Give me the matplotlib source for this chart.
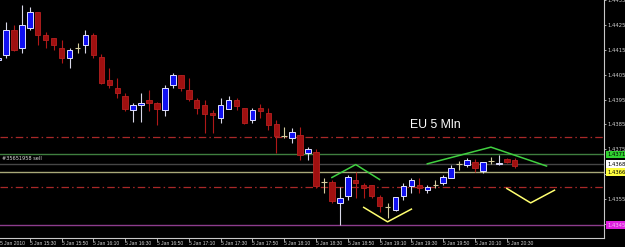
import matplotlib
matplotlib.use("Agg")
import matplotlib.pyplot as plt
import numpy as np
import pandas as pd

# ---- data (EURUSD 5-minute bars, 5 Jan 2010) ----
times = pd.date_range("2010-01-05 15:10", periods=66, freq="5min")
opens = [1.44110, 1.44130, 1.44230, 1.44158, 1.44238, 1.44302, 1.44210, 1.44198, 1.44158, 1.44118,
         1.44158, 1.44170, 1.44210, 1.44122, 1.44030, 1.43998, 1.43966, 1.43910, 1.43930, 1.43950,
         1.43938, 1.43910, 1.44010, 1.44050, 1.43990, 1.43950, 1.43930, 1.43898, 1.43878, 1.43914,
         1.43950, 1.43918, 1.43866, 1.43918, 1.43898, 1.43850, 1.43802, 1.43794, 1.43806, 1.43734,
         1.43738, 1.43618, 1.43618, 1.43534, 1.43562, 1.43626, 1.43606, 1.43606, 1.43558, 1.43518,
         1.43506, 1.43562, 1.43602, 1.43606, 1.43586, 1.43606, 1.43614, 1.43634, 1.43690, 1.43686,
         1.43698, 1.43662, 1.43702, 1.43690, 1.43710, 1.43706]
highs = [1.44122, 1.44262, 1.44250, 1.44330, 1.44322, 1.44302, 1.44222, 1.44198, 1.44190, 1.44158,
         1.44178, 1.44230, 1.44218, 1.44134, 1.44078, 1.44038, 1.43978, 1.43938, 1.43978, 1.43990,
         1.43942, 1.44010, 1.44058, 1.44050, 1.44038, 1.43958, 1.43950, 1.43910, 1.43958, 1.43966,
         1.43958, 1.43918, 1.43918, 1.43934, 1.43918, 1.43866, 1.43838, 1.43834, 1.43838, 1.43758,
         1.43750, 1.43634, 1.43626, 1.43598, 1.43646, 1.43658, 1.43614, 1.43606, 1.43566, 1.43534,
         1.43558, 1.43614, 1.43634, 1.43634, 1.43606, 1.43626, 1.43646, 1.43686, 1.43702, 1.43714,
         1.43710, 1.43698, 1.43718, 1.43726, 1.43714, 1.43714]
lows = [1.44106, 1.44118, 1.44146, 1.44138, 1.44230, 1.44170, 1.44158, 1.44150, 1.44098, 1.44078,
        1.44138, 1.44138, 1.44118, 1.44014, 1.43998, 1.43958, 1.43906, 1.43858, 1.43858, 1.43906,
        1.43846, 1.43886, 1.43998, 1.43986, 1.43946, 1.43894, 1.43814, 1.43814, 1.43854, 1.43914,
        1.43910, 1.43850, 1.43854, 1.43878, 1.43826, 1.43734, 1.43794, 1.43774, 1.43706, 1.43706,
        1.43594, 1.43574, 1.43534, 1.43446, 1.43546, 1.43554, 1.43554, 1.43554, 1.43498, 1.43474,
        1.43502, 1.43546, 1.43574, 1.43574, 1.43574, 1.43594, 1.43606, 1.43634, 1.43666, 1.43678,
        1.43658, 1.43654, 1.43690, 1.43686, 1.43694, 1.43674]
closes = [1.44118, 1.44230, 1.44150, 1.44250, 1.44302, 1.44210, 1.44190, 1.44170, 1.44118, 1.44150,
          1.44158, 1.44210, 1.44130, 1.44018, 1.44010, 1.43978, 1.43914, 1.43930, 1.43938, 1.43938,
          1.43914, 1.43998, 1.44050, 1.43998, 1.43954, 1.43918, 1.43894, 1.43890, 1.43930, 1.43950,
          1.43926, 1.43854, 1.43910, 1.43906, 1.43846, 1.43802, 1.43802, 1.43818, 1.43726, 1.43750,
          1.43602, 1.43618, 1.43542, 1.43554, 1.43638, 1.43614, 1.43594, 1.43562, 1.43522, 1.43518,
          1.43558, 1.43602, 1.43626, 1.43594, 1.43598, 1.43606, 1.43638, 1.43674, 1.43690, 1.43706,
          1.43674, 1.43698, 1.43702, 1.43694, 1.43698, 1.43682]

# horizontal levels
dashdot_levels = [1.43798, 1.43598]
green_level = 1.43730
bid_level = 1.43690
yellow_level = 1.43658
magenta_level = 1.43446
level_labels = ["1.4371", "1.4368", "1.4366", "1.4345"]

# hand-drawn pattern lines (bar index, price)
green1_x = [42, 45, 48];  green1_y = [1.43637, 1.43689, 1.43629]
green2_x = [54, 62, 69];  green2_y = [1.43692, 1.43759, 1.43683]
yellow1_x = [46, 49, 52]; yellow1_y = [1.43517, 1.43459, 1.43510]
yellow2_x = [64, 67, 70]; yellow2_y = [1.43593, 1.43535, 1.43586]

price_ticks = [1.4435, 1.4425, 1.4415, 1.4405, 1.4395, 1.4385, 1.4375, 1.4365, 1.4355, 1.4345]

# ---- figure ----
W, H = 625, 247
fig = plt.figure(figsize=(W / 100, H / 100), dpi=100, facecolor="black")
ax = fig.add_axes([0, 9 / H, 604 / W, 238 / H], facecolor="black")

idx = np.arange(len(times))
o = np.array(opens); h = np.array(highs); l = np.array(lows); c = np.array(closes)
bw = 0.68

bull = c > o
bear = c < o
doji = c == o

ax.vlines(idx[bull], l[bull], h[bull], color="#d8d8e8", lw=0.8, zorder=3)
ax.vlines(idx[bear], l[bear], h[bear], color="#b01818", lw=0.8, zorder=3)
ax.vlines(idx[doji], l[doji], h[doji], color="#d6cfa0", lw=0.8, zorder=3)
ax.bar(idx[bull], c[bull] - o[bull], bottom=o[bull], width=bw, color="#1010f0",
       edgecolor="#e0e0ff", linewidth=0.7, zorder=4)
ax.bar(idx[bear], o[bear] - c[bear], bottom=c[bear], width=bw, color="#a01010",
       edgecolor="#b82020", linewidth=0.6, zorder=4)
ax.hlines(o[doji], idx[doji] - bw / 2, idx[doji] + bw / 2, color="#d6cfa0", lw=0.8, zorder=4)

# horizontal lines
for lv in dashdot_levels:
    ax.axhline(lv, color="#a82828", lw=0.9, ls=(0, (6, 2.5, 1.2, 2.5)), zorder=1)
ax.axhline(green_level, color="#3f7f3f", lw=1.0, zorder=1)
ax.axhline(bid_level, color="#464646", lw=1.0, zorder=1)
ax.axhline(yellow_level, color="#a8a878", lw=1.0, zorder=1)
ax.axhline(magenta_level, color="#8c3c8c", lw=1.0, zorder=1)

# pattern lines
ax.plot(green1_x, green1_y, color="#40d040", lw=1.1, zorder=5)
ax.plot(green2_x, green2_y, color="#40d040", lw=1.1, zorder=5)
ax.plot(yellow1_x, yellow1_y, color="#ffff70", lw=1.1, zorder=5)
ax.plot(yellow2_x, yellow2_y, color="#ffff70", lw=1.1, zorder=5)

ax.text(411.5 / 7.95, 1.43846, "EU 5 Mln", color="white", fontsize=8.8,
        family="Liberation Sans", ha="left", va="center", zorder=6)
ax.text(0.45, 1.43712, "#35651958 sell", color="#e0e0e0", fontsize=3.6,
        family="DejaVu Sans", ha="left", va="center", zorder=6)

# limits
ax.set_xlim(2 / 7.95, 606 / 7.95)
ax.set_ylim(1.43394, 1.44346)

# axes styling
for s in ["top", "left"]:
    ax.spines[s].set_visible(False)
for s in ["right", "bottom"]:
    ax.spines[s].set_color("#c8c8c8")
    ax.spines[s].set_linewidth(0.8)

ax.yaxis.tick_right()
ax.set_yticks(price_ticks)
ax.set_yticklabels([f"{p:.4f}" for p in price_ticks])
ax.tick_params(axis="y", colors="#c8c8c8", labelsize=3.8, length=1.5, width=0.6, pad=1)
for t in ax.get_yticklabels():
    t.set_color("#d0d0d0")

xt = idx[4::4]
ax.set_xticks(xt)
ax.set_xticklabels([f"{t.day} Jan {t:%H:%M}" for t in times[4::4]], ha="left",
                   family="Liberation Sans")
ax.tick_params(axis="x", colors="#c8c8c8", labelsize=3.6, length=2, width=0.6, pad=0.5)
for t in ax.get_xticklabels():
    t.set_color("#d0d0d0")
ax.text(2 / 7.95, -0.012, f"{times[0].day} Jan {times[0].year}", transform=ax.get_xaxis_transform(),
        color="#d0d0d0", fontsize=3.6, family="Liberation Sans", ha="left", va="top")

# right-side price boxes
box_levels = [green_level, bid_level, yellow_level, magenta_level]
box_faces = ["#30d030", "#ffffff", "#ffff40", "#e020e0"]
box_text = ["#000000", "#000000", "#000000", "#f0c0f0"]
for lv, lab, fc, tc in zip(box_levels, level_labels, box_faces, box_text):
    ax.text(1.005, lv, lab, transform=ax.get_yaxis_transform(), fontsize=3.8,
            color=tc, ha="left", va="center", clip_on=False, zorder=10,
            bbox=dict(boxstyle="square,pad=0.25", fc=fc, ec="none"))

fig.savefig("out.png", dpi=100, facecolor="black")
